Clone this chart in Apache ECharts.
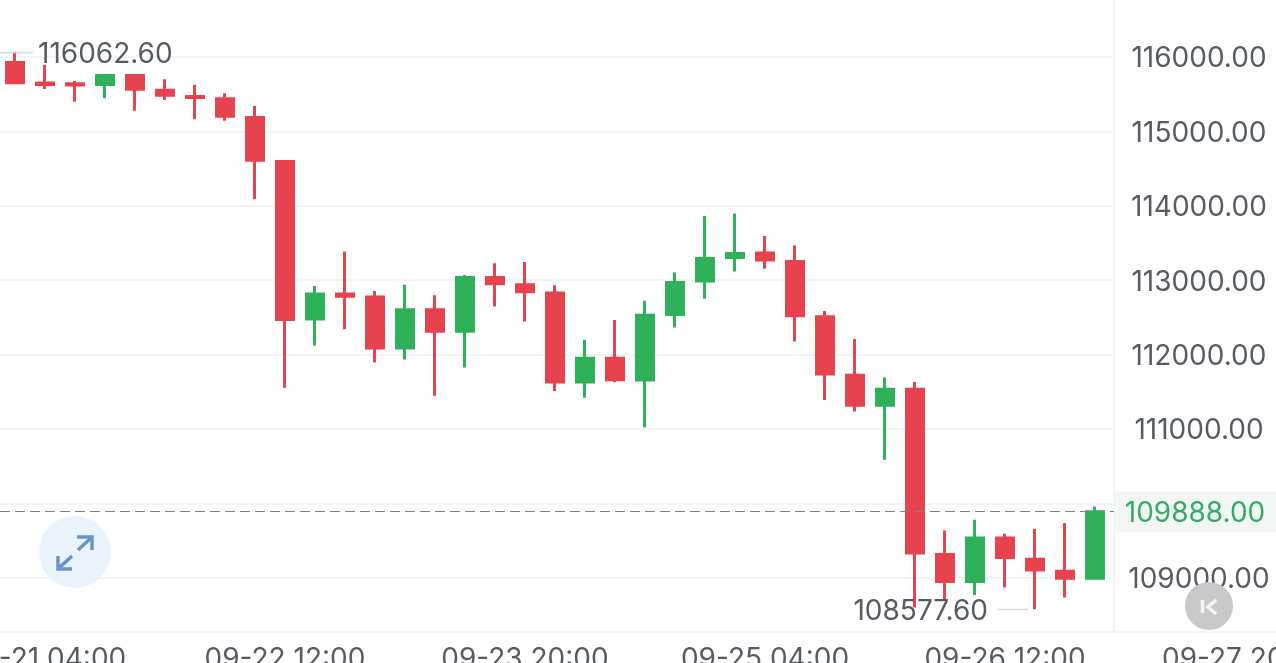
<!DOCTYPE html>
<html>
<head>
<meta charset="utf-8">
<style>
  html, body { margin: 0; padding: 0; background: #fff; overflow: hidden; }
  #myChart { width: 1276px; height: 663px; }
</style>
</head>
<body>
<div id="myChart"></div>
<script src="https://cdn.jsdelivr.net/npm/echarts@6/dist/echarts.min.js"></script>
<script>
  const categories = [
    '09-21 00:00', '09-21 04:00', '09-21 08:00', '09-21 12:00', '09-21 16:00', '09-21 20:00',
    '09-22 00:00', '09-22 04:00', '09-22 08:00', '09-22 12:00', '09-22 16:00', '09-22 20:00',
    '09-23 00:00', '09-23 04:00', '09-23 08:00', '09-23 12:00', '09-23 16:00', '09-23 20:00',
    '09-24 00:00', '09-24 04:00', '09-24 08:00', '09-24 12:00', '09-24 16:00', '09-24 20:00',
    '09-25 00:00', '09-25 04:00', '09-25 08:00', '09-25 12:00', '09-25 16:00', '09-25 20:00',
    '09-26 00:00', '09-26 04:00', '09-26 08:00', '09-26 12:00', '09-26 16:00', '09-26 20:00',
    '09-27 00:00', '09-27 04:00', '09-27 08:00', '09-27 12:00', '09-27 16:00', '09-27 20:00',
    '09-28 00:00'
  ];
  const opens = [
    115926, 115650, 115640, 115631, 115751, 115554, 115470, 115438, 115187, 114596,
    112477, 112815, 112773, 112087, 112603, 112312, 113037, 112939, 112826, 111631,
    111949, 111658, 112540, 112988, 113306, 113364, 113252, 112509, 111721, 111318,
    111533, 109312, 108949, 109535, 109248, 109087, 108993
  ];
  const closes = [
    115653, 115630, 115625, 115751, 115567, 115487, 115455, 115205, 114613, 112473,
    112813, 112785, 112087, 112603, 112312, 113037, 112953, 112845, 111631, 111949,
    111663, 112527, 112970, 113293, 113360, 113270, 112523, 111738, 111318, 111533,
    109333, 108949, 109535, 109271, 109104, 108993, 109888
  ];
  const lows = [
    115653, 115570, 115399, 115445, 115278, 115422, 115163, 115144, 114088, 111553,
    112121, 112341, 111893, 111933, 111445, 111825, 112645, 112443, 111512, 111418,
    111629, 111019, 112363, 112752, 113115, 113152, 112175, 111391, 111234, 110585,
    108600, 108691, 108767, 108870, 108577.6, 108735, 108993
  ];
  const highs = [
    116062.6, 115893, 115678, 115760, 115751, 115700, 115624, 115512, 115342, 114596,
    112923, 113384, 112856, 112937, 112798, 113071, 113228, 113246, 112933, 112198,
    112466, 112722, 113102, 113864, 113895, 113595, 113465, 112587, 112211, 111691,
    111633, 109635, 109779, 109591, 109654, 109735, 109958
  ];
  const gridTicks = [109000, 110000, 111000, 112000, 113000, 114000, 115000, 116000];
  const labelTicks = [109000, 111000, 112000, 113000, 114000, 115000, 116000];
  const lastPrice = 109888;
  const extremes = [[0, 116062.6, 1], [34, 108577.6, -1]];

  const fontName = 'Inter';
  const textColor = '#565c64';
  const lineColor = '#f2f4f7';
  const yMin = 108271;
  const yMax = 116766;

  const myChart = echarts.init(document.getElementById('myChart'));
  myChart.setOption({
    animation: false,
    backgroundColor: '#ffffff',
    // grid 0 runs under the price column so the last time label can sit there
    grid: [
      { left: 0, top: 0, width: 1290, bottom: 31, outerBoundsMode: 'none' },
      { left: 0, top: 0, width: 1114, bottom: 31, outerBoundsMode: 'none' }
    ],
    xAxis: [
      {
        type: 'category',
        gridIndex: 0,
        data: categories,
        axisLine: { lineStyle: { color: lineColor, width: 2 } },
        axisTick: { show: false },
        axisLabel: {
          interval: (i) => (i - 1) % 8 === 0,
          margin: 14,
          color: textColor,
          fontFamily: fontName,
          fontSize: 28
        },
        splitLine: { show: false }
      },
      { type: 'value', gridIndex: 1, min: 0, max: 1, show: false }
    ],
    yAxis: [
      { type: 'value', gridIndex: 0, min: yMin, max: yMax, show: false },
      {
        type: 'value',
        gridIndex: 1,
        position: 'right',
        min: yMin,
        max: yMax,
        axisLine: { show: true, onZero: false, lineStyle: { color: lineColor, width: 2 } },
        axisTick: { show: false, customValues: gridTicks },
        axisLabel: {
          customValues: labelTicks,
          formatter: (v) => v.toFixed(2),
          align: 'center',
          verticalAlign: 'top',
          lineHeight: 4,
          margin: 85,
          color: textColor,
          fontFamily: fontName,
          fontSize: 28
        },
        splitLine: { show: true, lineStyle: { color: lineColor, width: 2 } }
      }
    ],
    series: [
      {
        type: 'candlestick',
        xAxisIndex: 0,
        yAxisIndex: 0,
        barWidth: 17,
        itemStyle: {
          color: '#2fb159',
          color0: '#e6434f',
          borderColor: '#2fb159',
          borderColor0: '#e6434f',
          borderWidth: 3
        },
        data: opens.map((o, i) => [o, closes[i], lows[i], highs[i]])
      },
      {
        // empty series, only here to hang the last price line on the short grid
        type: 'line',
        xAxisIndex: 1,
        yAxisIndex: 1,
        data: [],
        markLine: {
          silent: true,
          symbol: 'none',
          lineStyle: { type: [10, 5], color: '#7d8288', width: 1 },
          label: {
            position: 'end',
            distance: 0,
            formatter: (p) => '{a|' + p.value.toFixed(2) + '}',
            rich: {
              a: {
                width: 162,
                height: 37,
                lineHeight: 37,
                padding: [4, 0, 0, 0],
                align: 'center',
                backgroundColor: '#f3f7f4',
                color: '#35ab63',
                fontFamily: fontName,
                fontSize: 28
              }
            }
          },
          data: [{ yAxis: lastPrice }]
        }
      },
      {
        type: 'custom',
        xAxisIndex: 0,
        yAxisIndex: 0,
        clip: false,
        z: 5,
        encode: { x: 0, y: 1 },
        data: extremes,
        renderItem: (params, api) => {
          const p = api.coord([api.value(0), api.value(1)]);
          const right = api.value(2) > 0;
          const y = Math.round(p[1]) + 0.5;
          return {
            type: 'group',
            children: [
              {
                type: 'line',
                shape: right
                  ? { x1: 0, y1: y, x2: p[0] + 18, y2: y }
                  : { x1: p[0] - 37, y1: y, x2: p[0] - 7, y2: y },
                style: { stroke: '#d6d9dc', lineWidth: 1.5 }
              },
              {
                type: 'text',
                style: {
                  x: right ? p[0] + 23 : p[0] - 47,
                  y: y + 2,
                  text: api.value(1).toFixed(2),
                  align: right ? 'left' : 'right',
                  verticalAlign: 'middle',
                  fill: textColor,
                  font: '28px ' + fontName
                }
              }
            ]
          };
        }
      }
    ],
    graphic: [
      { type: 'circle', silent: true, z: 10, shape: { cx: 75, cy: 552, r: 36 }, style: { fill: '#eaf2fb' } },
      { type: 'polyline', silent: true, z: 11, shape: { points: [[78, 550], [91, 538]] }, style: { stroke: '#6a95c9', lineWidth: 3.5, fill: null } },
      { type: 'polyline', silent: true, z: 11, shape: { points: [[77, 537], [92, 537], [92, 550]] }, style: { stroke: '#6a95c9', lineWidth: 3.5, fill: null } },
      { type: 'polyline', silent: true, z: 11, shape: { points: [[59, 568], [72, 556]] }, style: { stroke: '#6a95c9', lineWidth: 3.5, fill: null } },
      { type: 'polyline', silent: true, z: 11, shape: { points: [[58, 556], [58, 569], [72, 569]] }, style: { stroke: '#6a95c9', lineWidth: 3.5, fill: null } },
      { type: 'circle', silent: true, z: 10, shape: { cx: 1209, cy: 606, r: 24 }, style: { fill: '#c9c9cc' } },
      { type: 'polyline', silent: true, z: 11, shape: { points: [[1202.5, 600], [1202.5, 613]] }, style: { stroke: '#f5f5f5', lineWidth: 3.5, fill: null } },
      { type: 'polyline', silent: true, z: 11, shape: { points: [[1216, 600], [1208, 607], [1216, 614]] }, style: { stroke: '#f5f5f5', lineWidth: 3.5, fill: null } }
    ]
  });
</script>
</body>
</html>
